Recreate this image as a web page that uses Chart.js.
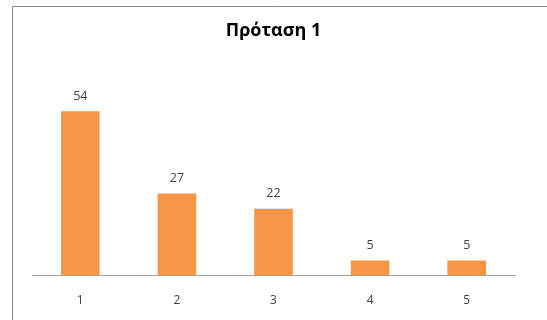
<!DOCTYPE html>
<html>
<head>
<meta charset="utf-8">
<script src="https://cdn.jsdelivr.net/npm/chart.js@4"></script>
<style>
  html, body { margin: 0; padding: 0; background: #fff; }
  #wrap { width: 547px; height: 320px; position: relative; }
</style>
</head>
<body>
<div id="wrap"><canvas id="c" width="547" height="320"></canvas></div>
<script>
const categories = ['1', '2', '3', '4', '5'];
const counts = [54, 27, 22, 5, 5];
const chartTitle = 'Πρόταση 1';

// Frame lines (top and left edge) around the chart
const framePlugin = {
  id: 'frame',
  beforeDraw(chart) {
    const ctx = chart.ctx;
    ctx.save();
    ctx.strokeStyle = '#8c8c8c';
    ctx.lineWidth = 1;
    ctx.beginPath();
    ctx.moveTo(12.5, 320);
    ctx.lineTo(12.5, 6.5);
    ctx.lineTo(547, 6.5);
    ctx.stroke();
    ctx.restore();
  }
};

// Value labels above each bar
const valueLabels = {
  id: 'valueLabels',
  afterDatasetsDraw(chart) {
    const ctx = chart.ctx;
    const meta = chart.getDatasetMeta(0);
    ctx.save();
    ctx.font = '12.5px "Open Sans", "Noto Sans", sans-serif';
    ctx.fillStyle = '#404040';
    ctx.textAlign = 'center';
    ctx.textBaseline = 'middle';
    meta.data.forEach((bar, i) => {
      ctx.fillText(String(chart.data.datasets[0].data[i]), bar.x, bar.y - 15);
    });
    ctx.restore();
  }
};

new Chart(document.getElementById('c'), {
  type: 'bar',
  data: {
    labels: categories,
    datasets: [{
      data: counts,
      backgroundColor: '#F79646',
      borderWidth: 0,
      categoryPercentage: 1,
      barPercentage: 0.4
    }]
  },
  options: {
    responsive: false,
    animation: false,
    layout: { padding: { left: 32, right: 32, top: 0, bottom: -6 } },
    plugins: {
      legend: { display: false },
      tooltip: { enabled: false },
      title: {
        display: true,
        text: chartTitle,
        color: '#000',
        font: { family: '"Open Sans", "Noto Sans", sans-serif', size: 18, weight: 'bold' },
        padding: { top: 20, bottom: 51.4 }
      }
    },
    scales: {
      x: {
        grid: { display: false, drawTicks: false },
        border: { display: true, color: '#a0a0a0', width: 1 },
        ticks: {
          color: '#404040',
          padding: 18,
          font: { family: '"Open Sans", "Noto Sans", sans-serif', size: 12 }
        }
      },
      y: {
        display: false,
        min: 0,
        max: 60
      }
    }
  },
  plugins: [framePlugin, valueLabels]
});
</script>
</body>
</html>
